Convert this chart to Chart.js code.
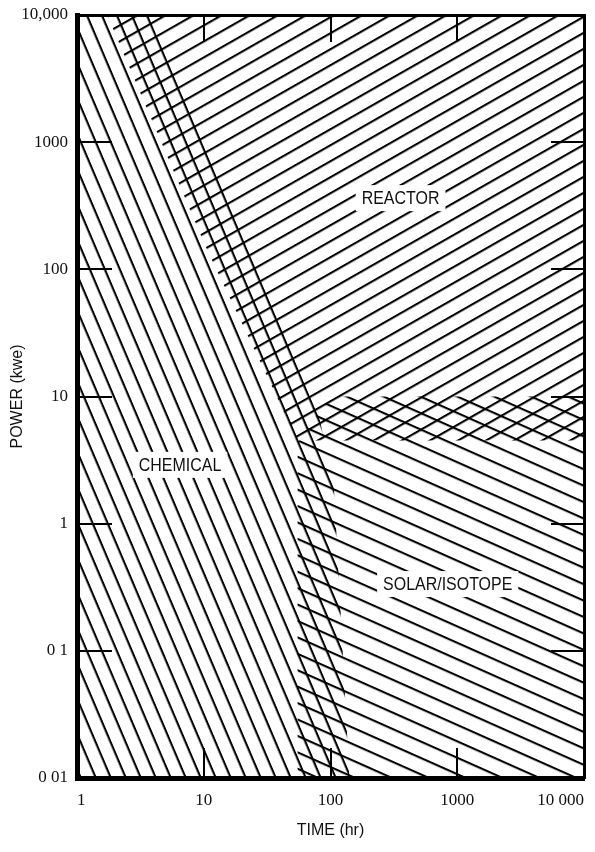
<!DOCTYPE html>
<html>
<head>
<meta charset="utf-8">
<title>Power source regimes</title>
<script src="https://cdn.jsdelivr.net/npm/chart.js@4.4.1/dist/chart.umd.min.js"></script>
<style>
  html, body { margin: 0; padding: 0; background: #fff; }
  #c { display: block; }
</style>
</head>
<body>
<canvas id="c" width="595" height="852"></canvas>
<script>
// Axis ticks and their printed labels
const timeTicks = [1, 10, 100, 1000, 10000];
const timeTickLabels = ['1', '10', '100', '1000', '10 000'];
const powerTicks = [0.01, 0.1, 1, 10, 100, 1000, 10000];
const powerTickLabels = ['0 01', '0 1', '1', '10', '100', '1000', '10,000'];

// Region outlines: time (hr) and power (kWe) at each corner
const chemicalTime  = [1, 4.3, 76, 106, 141, 1];
const chemicalPower = [10000, 10000, 9.4, 2.1, 0.01, 0.01];
const reactorTime   = [1.73, 10.7, 55, 10000, 10000];
const reactorPower  = [10000, 140, 4.5, 4.5, 10000];
const solarTime     = [55, 55, 100, 10000, 10000];
const solarPower    = [0.01, 4.3, 10, 10, 0.01];

// Region names and where they are written
const regionNames = ['CHEMICAL', 'REACTOR', 'SOLAR/ISOTOPE'];
const labelTime   = [6.5, 357, 841];
const labelPower  = [2.9, 363, 0.335];

// Parallel-line hatch: angle in degrees, line spacing, line width, a point one line passes through
function hatch(angle, spacing, width, ax, ay) {
  const h = 16;
  const tile = document.createElement('canvas');
  tile.width = 8;
  tile.height = h;
  const t = tile.getContext('2d');
  t.fillStyle = '#000';
  t.fillRect(0, 0, 8, width * h / spacing);
  const p = t.createPattern(tile, 'repeat');
  p.setTransform(new DOMMatrix().translateSelf(ax, ay).rotateSelf(angle).scaleSelf(1, spacing / h));
  return p;
}

function outline(times, powers) {
  return times.map((t, i) => ({ x: t, y: powers[i] }));
}

function region(name, times, powers, pattern) {
  return {
    label: name,
    data: outline(times, powers),
    backgroundColor: pattern,
    borderColor: 'rgba(0,0,0,0)',
    borderWidth: 0,
    pointRadius: 0,
    pointHoverRadius: 0,
    tension: 0,
    fill: 'shape'
  };
}

// Inward tick marks, hidden at the two ends of each axis
function innerTicks(len) {
  return {
    display: true,
    drawOnChartArea: false,
    drawTicks: true,
    tickLength: -len,
    lineWidth: 2,
    color: c => (c.index === 0 || c.index === c.scale.ticks.length - 1) ? 'rgba(0,0,0,0)' : '#000'
  };
}

const setTicks = vals => axis => { axis.ticks = vals.map(v => ({ value: v })); };

const regionLabelPlugin = {
  id: 'regionLabels',
  afterDatasetsDraw(chart) {
    const { ctx, scales: { x, y } } = chart;
    const squeeze = 0.84;
    ctx.save();
    ctx.font = '19px "Liberation Sans", Arial, sans-serif';
    ctx.textAlign = 'center';
    ctx.textBaseline = 'middle';
    regionNames.forEach((name, i) => {
      const px = x.getPixelForValue(labelTime[i]);
      const py = y.getPixelForValue(labelPower[i]);
      const w = ctx.measureText(name).width * squeeze;
      ctx.fillStyle = '#fff';
      ctx.fillRect(px - w / 2 - 6, py - 13, w + 12, 26);
      ctx.save();
      ctx.translate(px, py);
      ctx.scale(squeeze, 1);
      ctx.fillStyle = '#111';
      ctx.fillText(name, 0, 1);
      ctx.restore();
    });
    ctx.restore();
  }
};

new Chart(document.getElementById('c'), {
  type: 'line',
  data: {
    datasets: [
      region('CHEMICAL', chemicalTime, chemicalPower, hatch(67, 13.8, 2.1, 82, 778)),
      region('REACTOR', reactorTime, reactorPower, hatch(-29.7, 13.9, 2.1, 583, 32)),
      region('SOLAR/ISOTOPE', solarTime, solarPower, hatch(24, 15, 2.1, 583, 632))
    ]
  },
  options: {
    responsive: false,
    maintainAspectRatio: false,
    animation: false,
    events: [],
    layout: { padding: 0, autoPadding: false },
    plugins: {
      legend: { display: false },
      tooltip: { enabled: false }
    },
    scales: {
      x: {
        type: 'logarithmic',
        position: 'bottom',
        min: 1,
        max: 10000,
        afterBuildTicks: setTicks(timeTicks),
        afterFit: a => { a.height = 74; a.paddingLeft = 0; a.paddingRight = 0; },
        grid: innerTicks(30),
        border: { display: true, width: 5, color: '#000', z: 1 },
        ticks: {
          autoSkip: false,
          maxRotation: 0,
          minRotation: 0,
          align: 'inner',
          padding: 42,
          color: '#111',
          font: { family: '"Liberation Serif", "Times New Roman", serif', size: 17 },
          callback: (v, i) => timeTickLabels[i]
        },
        title: {
          display: true,
          text: 'TIME (hr)',
          color: '#111',
          font: { family: '"Liberation Sans", Arial, sans-serif', size: 16 },
          padding: { top: 0, bottom: 12 }
        }
      },
      x2: {
        type: 'logarithmic',
        position: 'top',
        min: 1,
        max: 10000,
        afterBuildTicks: setTicks(timeTicks),
        afterFit: a => { a.height = 15; a.paddingLeft = 0; a.paddingRight = 0; },
        grid: innerTicks(27),
        border: { display: true, width: 3, color: '#000', z: 1 },
        ticks: { display: false, autoSkip: false }
      },
      y: {
        type: 'logarithmic',
        position: 'left',
        min: 0.01,
        max: 10000,
        afterBuildTicks: setTicks(powerTicks),
        afterFit: a => { a.width = 77; a.paddingTop = 0; a.paddingBottom = 0; },
        grid: innerTicks(35),
        border: { display: true, width: 5, color: '#000', z: 1 },
        ticks: {
          autoSkip: false,
          padding: 44,
          color: '#111',
          font: { family: '"Liberation Serif", "Times New Roman", serif', size: 17 },
          callback: (v, i) => powerTickLabels[i]
        },
        title: {
          display: true,
          text: 'POWER (kwe)',
          color: '#111',
          font: { family: '"Liberation Sans", Arial, sans-serif', size: 16 },
          padding: { top: 8, bottom: 0 }
        }
      },
      y2: {
        type: 'logarithmic',
        position: 'right',
        min: 0.01,
        max: 10000,
        afterBuildTicks: setTicks(powerTicks),
        afterFit: a => { a.width = 11; a.paddingTop = 0; a.paddingBottom = 0; },
        grid: innerTicks(33),
        border: { display: true, width: 3, color: '#000', z: 1 },
        ticks: { display: false, autoSkip: false }
      }
    }
  },
  plugins: [regionLabelPlugin]
});
</script>
</body>
</html>
